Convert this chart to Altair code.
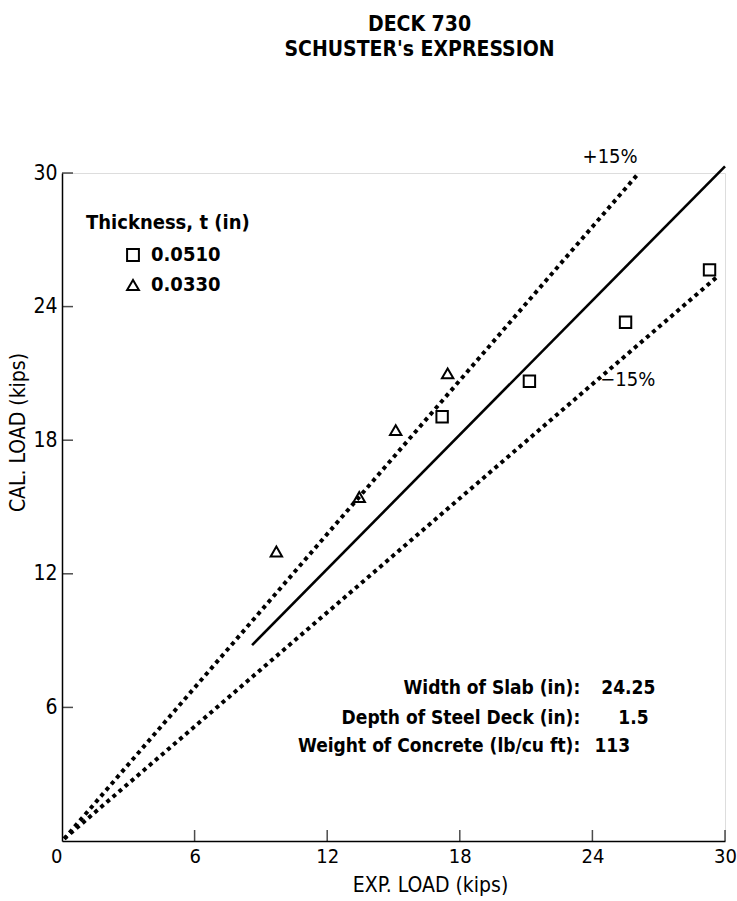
import altair as alt
import pandas as pd

FONT = "Liberation Sans Narrow, DejaVu Sans Condensed, Arial Narrow, sans-serif"

# ---- data ----
thickness_labels = ["0.0510", "0.0330"]
sq_exp = [17.2, 21.15, 25.5, 29.3]
sq_cal = [19.05, 20.65, 23.3, 25.65]
tri_exp = [9.7, 13.45, 15.1, 17.45]
tri_cal = [13.0, 15.45, 18.45, 21.0]

# reference lines (end points)
eq_x = [8.6, 30.0]
eq_y = [8.8, 30.3]
plus_x = [0.1, 26.1]
plus_y = [0.1, 30.0]
minus_x = [0.1, 29.6]
minus_y = [0.1, 25.3]

tick_values = [6, 12, 18, 24, 30]
label_values = [0, 6, 12, 18, 24, 30]

pct_labels = ["+15%", "\u221215%"]
pct_x = [24.8, 25.6]
pct_y = [30.7, 20.7]

info_labels = ["Width of Slab (in):", "Depth of Steel Deck (in):", "Weight of Concrete (lb/cu ft):"]
info_values = ["24.25", "1.5", "113"]
info_label_x = [23.45, 23.45, 23.45]
info_value_x = [24.4, 25.17, 24.09]
info_y = [6.87, 5.52, 4.27]

# ---- tables ----
pts = pd.DataFrame({
    "exp": sq_exp + tri_exp,
    "cal": sq_cal + tri_cal,
    "t": [thickness_labels[0]] * len(sq_exp) + [thickness_labels[1]] * len(tri_exp),
})
solid = pd.DataFrame({"exp": eq_x, "cal": eq_y})
dashed = pd.DataFrame({
    "exp": plus_x + minus_x,
    "cal": plus_y + minus_y,
    "name": ["plus"] * 2 + ["minus"] * 2,
})
ticks = pd.DataFrame({"v": tick_values})
pct = pd.DataFrame({"txt": pct_labels, "x": pct_x, "y": pct_y})
info = pd.DataFrame({"lab": info_labels, "val": info_values,
                     "lx": info_label_x, "vx": info_value_x, "y": info_y})

xscale = alt.Scale(domain=[0, 30], nice=False, zero=False)
yscale = alt.Scale(domain=[0, 30], nice=False, zero=False)

x_axis = alt.Axis(
    values=label_values, ticks=False, grid=False,
    domainColor="black", domainWidth=1.5,
    labelFont=FONT, labelFontSize=20, labelColor="black", labelPadding=5,
    labelAlign={"condition": {"test": "datum.value == 0", "value": "right"}, "value": "center"},
    title="EXP. LOAD (kips)", titleFont=FONT, titleFontSize=21, titleFontWeight="normal",
    titleColor="black", titleX=368, titleY=44, titleBaseline="middle", titleAlign="center",
)
y_axis = alt.Axis(
    values=label_values, ticks=False, grid=False,
    domainColor="black", domainWidth=1.5,
    labelFont=FONT, labelFontSize=21, labelColor="black", labelPadding=5,
    labelExpr="datum.value == 0 ? '' : datum.label",
    title="CAL. LOAD (kips)", titleFont=FONT, titleFontSize=21, titleFontWeight="normal",
    titleColor="black", titleX=-44, titleY=259, titleAngle=270,
    titleBaseline="middle", titleAlign="center",
)

base_x = alt.X("exp:Q", scale=xscale, axis=x_axis)
base_y = alt.Y("cal:Q", scale=yscale, axis=y_axis)

points = alt.Chart(pts).mark_point(filled=False, color="black", strokeWidth=2, size=130, opacity=1).encode(
    x=base_x, y=base_y,
    shape=alt.Shape("t:N", scale=alt.Scale(domain=thickness_labels, range=["square", "triangle-up"]),
                    legend=alt.Legend(
                        orient="none", legendX=24, legendY=40, padding=0,
                        title="Thickness, t (in)", titleFont=FONT, titleFontSize=20,
                        titleFontWeight="bold", titleColor="black", titlePadding=12,
                        labelFont=FONT, labelFontSize=20, labelFontWeight="bold", labelColor="black",
                        symbolSize=140, symbolStrokeWidth=2, symbolStrokeColor="black",
                        symbolFillColor="white", symbolOffset=37, labelOffset=8, rowPadding=10,
                    )),
)

solid_line = alt.Chart(solid).mark_line(color="black", strokeWidth=2.6).encode(
    x=alt.X("exp:Q", scale=xscale), y=alt.Y("cal:Q", scale=yscale))

dashed_lines = alt.Chart(dashed).mark_line(color="black", strokeWidth=4, strokeDash=[4, 4]).encode(
    x=alt.X("exp:Q", scale=xscale), y=alt.Y("cal:Q", scale=yscale), detail="name:N")

xticks = alt.Chart(ticks).mark_tick(orient="vertical", size=11, thickness=1.5, color="black", yOffset=-5.5).encode(
    x=alt.X("v:Q", scale=xscale), y=alt.datum(0))
yticks = alt.Chart(ticks).mark_tick(orient="horizontal", size=11, thickness=1.5, color="black", xOffset=5.5).encode(
    y=alt.Y("v:Q", scale=yscale), x=alt.datum(0))

pct_text = alt.Chart(pct).mark_text(font=FONT, fontSize=20, color="black", align="center", baseline="middle").encode(
    x=alt.X("x:Q", scale=xscale), y=alt.Y("y:Q", scale=yscale), text="txt:N")

info_lab = alt.Chart(info).mark_text(font=FONT, fontSize=19, fontWeight="bold", color="black",
                                     align="right", baseline="middle").encode(
    x=alt.X("lx:Q", scale=xscale), y=alt.Y("y:Q", scale=yscale), text="lab:N")
info_val = alt.Chart(info).mark_text(font=FONT, fontSize=19, fontWeight="bold", color="black",
                                     align="left", baseline="middle").encode(
    x=alt.X("vx:Q", scale=xscale), y=alt.Y("y:Q", scale=yscale), text="val:N")

chart = alt.layer(
    points, solid_line, dashed_lines, xticks, yticks, pct_text, info_lab, info_val
).properties(
    width=663, height=668,
    autosize=alt.AutoSizeParams(type="none"),
    padding={"left": 62, "top": 173, "right": 12, "bottom": 60},
    title=alt.TitleParams(
        text=["DECK 730", "SCHUSTER's EXPRESSION"], anchor="middle", frame="group",
        dx=26, offset=87, font=FONT, fontSize=21, fontWeight="bold", color="black", lineHeight=25,
    ),
).configure_view(stroke=None).configure(background="white")

chart.save("out.html", embed_options={"renderer": "svg", "actions": False})
